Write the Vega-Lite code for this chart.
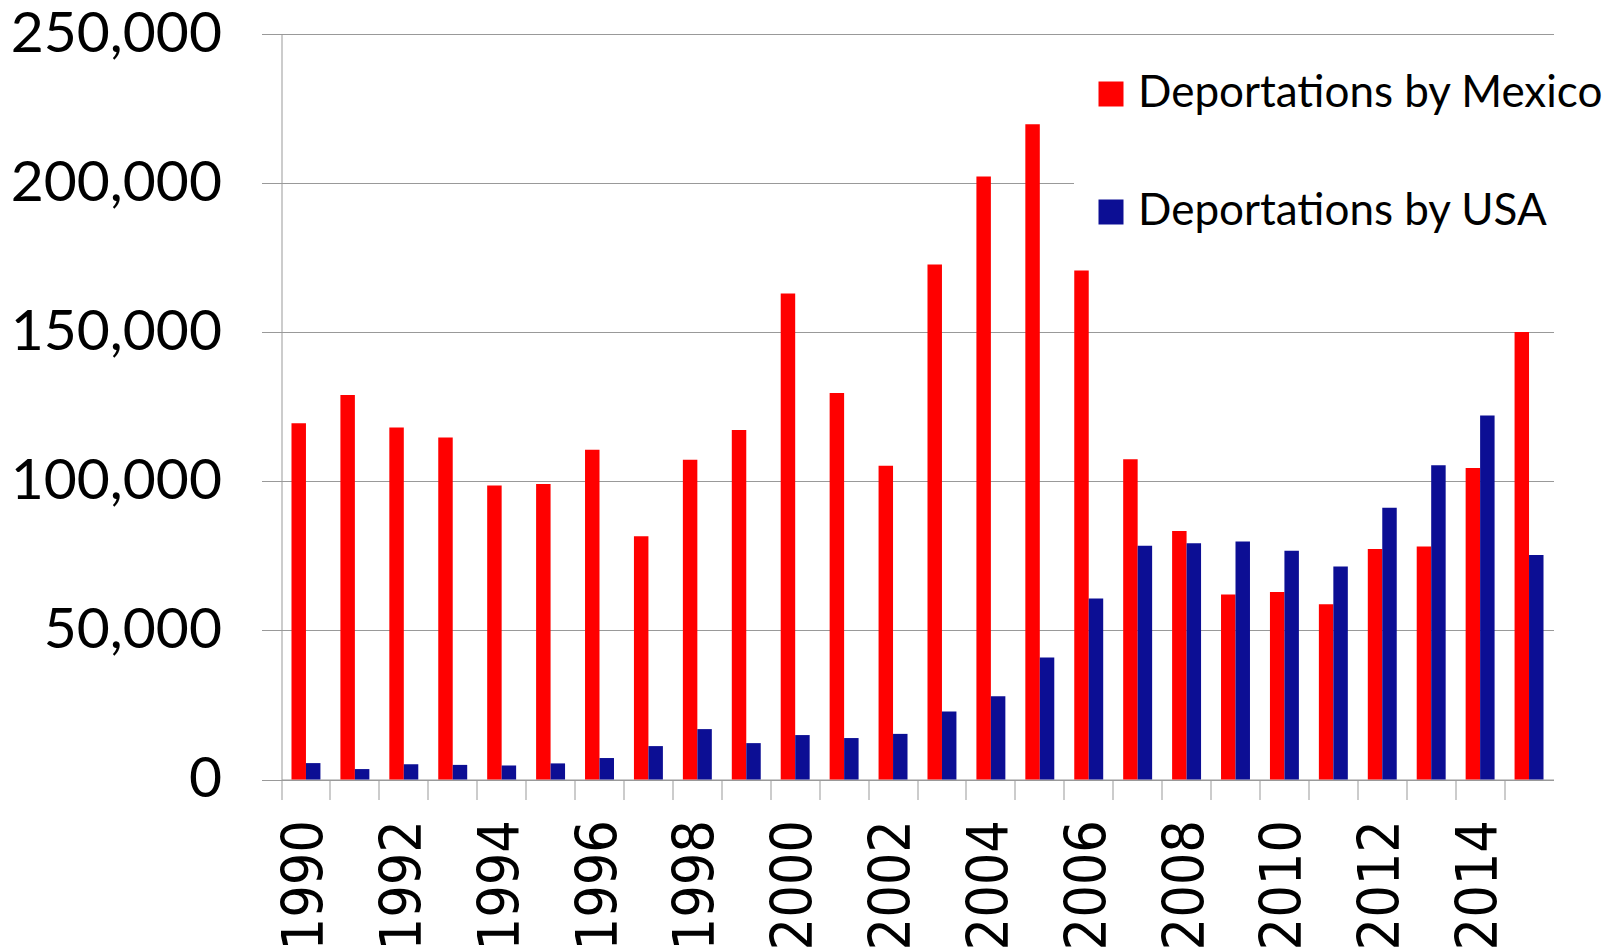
{
  "$schema": "https://vega.github.io/schema/vega-lite/v6.json",
  "autosize": {"type": "none"},
  "width": 1272,
  "height": 745.5,
  "padding": {"left": 281.5, "top": 34, "right": 63.5, "bottom": 170.5},
  "background": "white",
  "data": {"values": [
    {"year": 1990, "series": "Deportations by Mexico", "value": 119500},
    {"year": 1991, "series": "Deportations by Mexico", "value": 128900},
    {"year": 1992, "series": "Deportations by Mexico", "value": 118000},
    {"year": 1993, "series": "Deportations by Mexico", "value": 114700},
    {"year": 1994, "series": "Deportations by Mexico", "value": 98600},
    {"year": 1995, "series": "Deportations by Mexico", "value": 99100},
    {"year": 1996, "series": "Deportations by Mexico", "value": 110600},
    {"year": 1997, "series": "Deportations by Mexico", "value": 81600},
    {"year": 1998, "series": "Deportations by Mexico", "value": 107200},
    {"year": 1999, "series": "Deportations by Mexico", "value": 117200},
    {"year": 2000, "series": "Deportations by Mexico", "value": 163000},
    {"year": 2001, "series": "Deportations by Mexico", "value": 129600},
    {"year": 2002, "series": "Deportations by Mexico", "value": 105200},
    {"year": 2003, "series": "Deportations by Mexico", "value": 172700},
    {"year": 2004, "series": "Deportations by Mexico", "value": 202200},
    {"year": 2005, "series": "Deportations by Mexico", "value": 219700},
    {"year": 2006, "series": "Deportations by Mexico", "value": 170700},
    {"year": 2007, "series": "Deportations by Mexico", "value": 107400},
    {"year": 2008, "series": "Deportations by Mexico", "value": 83300},
    {"year": 2009, "series": "Deportations by Mexico", "value": 62000},
    {"year": 2010, "series": "Deportations by Mexico", "value": 62900},
    {"year": 2011, "series": "Deportations by Mexico", "value": 58800},
    {"year": 2012, "series": "Deportations by Mexico", "value": 77300},
    {"year": 2013, "series": "Deportations by Mexico", "value": 78100},
    {"year": 2014, "series": "Deportations by Mexico", "value": 104500},
    {"year": 2015, "series": "Deportations by Mexico", "value": 150100},
    {"year": 1990, "series": "Deportations by USA", "value": 5500},
    {"year": 1991, "series": "Deportations by USA", "value": 3500},
    {"year": 1992, "series": "Deportations by USA", "value": 5100},
    {"year": 1993, "series": "Deportations by USA", "value": 4900},
    {"year": 1994, "series": "Deportations by USA", "value": 4700},
    {"year": 1995, "series": "Deportations by USA", "value": 5400},
    {"year": 1996, "series": "Deportations by USA", "value": 7200},
    {"year": 1997, "series": "Deportations by USA", "value": 11200},
    {"year": 1998, "series": "Deportations by USA", "value": 16900},
    {"year": 1999, "series": "Deportations by USA", "value": 12200},
    {"year": 2000, "series": "Deportations by USA", "value": 14900},
    {"year": 2001, "series": "Deportations by USA", "value": 13900},
    {"year": 2002, "series": "Deportations by USA", "value": 15300},
    {"year": 2003, "series": "Deportations by USA", "value": 22800},
    {"year": 2004, "series": "Deportations by USA", "value": 27900},
    {"year": 2005, "series": "Deportations by USA", "value": 40900},
    {"year": 2006, "series": "Deportations by USA", "value": 60700},
    {"year": 2007, "series": "Deportations by USA", "value": 78400},
    {"year": 2008, "series": "Deportations by USA", "value": 79200},
    {"year": 2009, "series": "Deportations by USA", "value": 79800},
    {"year": 2010, "series": "Deportations by USA", "value": 76700},
    {"year": 2011, "series": "Deportations by USA", "value": 71400},
    {"year": 2012, "series": "Deportations by USA", "value": 91100},
    {"year": 2013, "series": "Deportations by USA", "value": 105400},
    {"year": 2014, "series": "Deportations by USA", "value": 122100},
    {"year": 2015, "series": "Deportations by USA", "value": 75300}
  ]},
  "mark": {"type": "bar"},
  "encoding": {
    "x": {
      "field": "year", "type": "ordinal",
      "scale": {"paddingInner": 0, "paddingOuter": 0},
      "axis": {
        "title": null,
        "bandPosition": 0,
        "labelAngle": -90,
        "labelAlign": "right",
        "labelBaseline": "middle",
        "labelFont": "DejaVu Sans Condensed",
        "labelFontSize": 57,
        "labelColor": "black",
        "labelPadding": 20,
        "labelOverlap": false,
        "labelFlush": false,
        "labelBound": false,
        "labelLimit": 0,
        "labelExpr": "datum.value % 2 == 0 ? datum.label : ''",
        "tickSize": 20,
        "tickColor": "#999999",
        "tickWidth": 1,
        "domainColor": "#999999",
        "domainWidth": 1,
        "grid": false
      }
    },
    "xOffset": {
      "field": "series", "type": "nominal",
      "scale": {"paddingInner": 0, "paddingOuter": 0.69}
    },
    "y": {
      "field": "value", "type": "quantitative",
      "scale": {"domain": [0, 250000], "nice": false},
      "axis": {
        "title": null,
        "values": [0, 50000, 100000, 150000, 200000, 250000],
        "format": ",d",
        "labelFont": "Lato",
        "labelFontSize": 57,
        "labelColor": "black",
        "labelPadding": 40,
        "labelLimit": 0,
        "tickSize": 20,
        "tickColor": "#999999",
        "tickWidth": 1,
        "grid": true,
        "gridColor": "#999999",
        "gridWidth": 1,
        "domainColor": "#999999",
        "domainWidth": 1
      }
    },
    "color": {
      "field": "series", "type": "nominal",
      "scale": {"domain": ["Deportations by Mexico", "Deportations by USA"], "range": ["#FF0000", "#0C0E94"]},
      "legend": {
        "title": null,
        "orient": "none",
        "legendX": 792.5,
        "legendY": 23,
        "padding": 15,
        "fillColor": "white",
        "symbolType": "square",
        "symbolSize": 625,
        "symbolStrokeWidth": 0,
        "labelFont": "Lato",
        "labelFontSize": 44,
        "labelColor": "black",
        "labelOffset": 5,
        "rowPadding": 74,
        "labelLimit": 0
      }
    }
  },
  "config": {"view": {"stroke": null}}
}
